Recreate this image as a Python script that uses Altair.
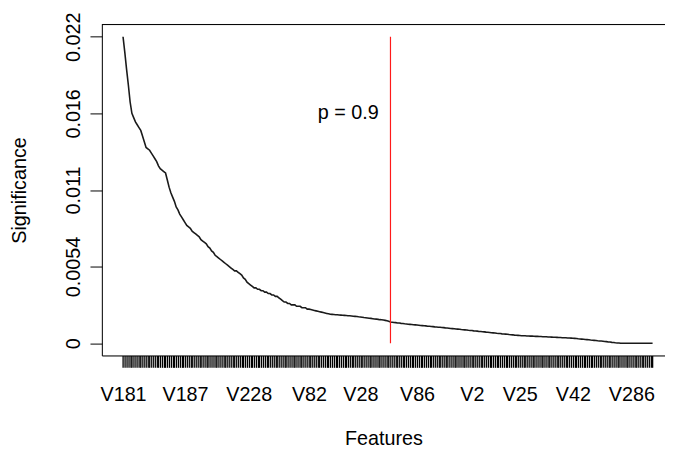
import altair as alt
import pandas as pd

# Significance of each feature (features sorted by significance)
significance = [
    0.0216, 0.0205, 0.0193, 0.0182, 0.0170, 0.0162, 0.0159, 0.0156, 0.0154, 0.0152,
    0.0150, 0.0146, 0.0142, 0.0138, 0.0137, 0.0136, 0.0134, 0.0132, 0.0130, 0.0128,
    0.0125, 0.0123, 0.0122, 0.0121, 0.0120, 0.0115, 0.0110, 0.0106, 0.0103, 0.0100,
    0.0096, 0.0094, 0.0091, 0.0089, 0.0087, 0.0085, 0.0083, 0.0082, 0.0081, 0.0079,
    0.0078, 0.0077, 0.0076, 0.0075, 0.0073, 0.0072, 0.0071, 0.0070, 0.0068, 0.0067,
    0.0065, 0.0064, 0.0062, 0.0061, 0.0060, 0.0059, 0.0058, 0.0057, 0.0056, 0.0055,
    0.0054, 0.0053, 0.0052, 0.0051, 0.0051, 0.0050, 0.0049, 0.0048, 0.0046, 0.0045,
    0.0043, 0.0042, 0.0041, 0.0040, 0.0039, 0.0039, 0.0038, 0.0038, 0.0037, 0.0037,
    0.0036, 0.0036, 0.0035, 0.0035, 0.0034, 0.0034, 0.0033, 0.0033, 0.0032, 0.0031,
    0.0030, 0.0029, 0.0029, 0.0028, 0.0028, 0.0027, 0.0027, 0.0027, 0.0026, 0.0026,
    0.0026, 0.0025, 0.0025, 0.0025, 0.0024, 0.0024, 0.00237, 0.00234, 0.00231, 0.00228,
    0.00225, 0.00222, 0.00219, 0.00216, 0.00213, 0.00210, 0.00207, 0.00204, 0.00203, 0.00202,
    0.00201, 0.00200, 0.00199, 0.00198, 0.00197, 0.00196, 0.00195, 0.00194, 0.00193, 0.00192,
    0.00190, 0.00189, 0.00188, 0.00186, 0.00185, 0.00183, 0.00181, 0.00180, 0.00178, 0.00176,
    0.00175, 0.00173, 0.00171, 0.00170, 0.00168, 0.00166, 0.00165, 0.00163, 0.00161, 0.00158,
    0.00155, 0.00150, 0.00148, 0.00146, 0.00145, 0.00143, 0.00142, 0.00140, 0.00139, 0.00137,
    0.00136, 0.00134, 0.00133, 0.00132, 0.00130, 0.00129, 0.00128, 0.00127, 0.00125, 0.00124,
    0.00123, 0.00122, 0.00120, 0.00119, 0.00118, 0.00117, 0.00115, 0.00114, 0.00113, 0.00112,
    0.00111, 0.00110, 0.00108, 0.00107, 0.00106, 0.00104, 0.00103, 0.00102, 0.00100, 0.00099,
    0.00098, 0.00096, 0.00095, 0.00094, 0.00093, 0.00091, 0.00090, 0.00089, 0.00087, 0.00086,
    0.00085, 0.00083, 0.00082, 0.00081, 0.00080, 0.00078, 0.00077, 0.00076, 0.00074, 0.00073,
    0.00072, 0.00070, 0.00069, 0.00068, 0.00066, 0.00065, 0.00064, 0.00063, 0.00061, 0.00060,
    0.00059, 0.00057, 0.00056, 0.00055, 0.00054, 0.00053, 0.00052, 0.00052, 0.00051, 0.00051,
    0.00050, 0.00050, 0.00049, 0.00048, 0.00048, 0.00047, 0.00047, 0.00046, 0.00045, 0.00045,
    0.00044, 0.00044, 0.00043, 0.00042, 0.00042, 0.00041, 0.00040, 0.00040, 0.00039, 0.00039,
    0.00038, 0.00037, 0.00037, 0.00036, 0.00035, 0.00034, 0.00033, 0.00031, 0.00030, 0.00029,
    0.00028, 0.00026, 0.00025, 0.00024, 0.00022, 0.00021, 0.00020, 0.00019, 0.00017, 0.00016,
    0.00015, 0.00014, 0.00012, 0.00011, 0.00009, 0.00008, 0.00006, 0.00005, 0.00003, 0.00002,
    0.00001, 0.0, 0.0, 0.0, 0.0, 0.0, 0.0, 0.0, 0.0, 0.0,
    0.0, 0.0, 0.0, 0.0, 0.0, 0.0, 0.0, 0.0, 0.0, 0.0,
]

# x-axis labels that are visible in the reference (R drops overlapping ones)
label_positions = [1, 36, 72, 106, 135, 167, 198, 225, 255, 288]
label_names = ["V181", "V187", "V228", "V82", "V28", "V86", "V2", "V25", "V42", "V286"]

# y-axis ticks: seq(0, max, length = 5), shown with 2 significant digits
y_ticks = [0, 0.0054, 0.0108, 0.0162, 0.0216]
y_tick_labels = ["0", "0.0054", "0.011", "0.016", "0.022"]

# cut-off marker
cut_index = 152
cut_label = "p = 0.9"
cut_label_y = 0.0162

n = len(significance)
feature_index = list(range(1, n + 1))
df = pd.DataFrame({"index": feature_index, "significance": significance})

FONT = "Liberation Sans"
FS = 20

pad = 0.04 * (n - 1)
x_lo = 1 - pad
x_hi = x_lo + 570 / (536 / (n - 1))
y_pad = 0.04 * max(y_ticks)
y_lo, y_hi = -y_pad, max(y_ticks) + y_pad

x_scale = alt.Scale(domain=[x_lo, x_hi], nice=False, zero=False)
y_scale = alt.Scale(domain=[y_lo, y_hi], nice=False, zero=False)

pos_js = "[" + ",".join(str(p) for p in label_positions) + "]"
names_js = "[" + ",".join("'" + s + "'" for s in label_names) + "]"
x_label_expr = f"indexof({pos_js}, datum.value) >= 0 ? {names_js}[indexof({pos_js}, datum.value)] : ''"

yt_js = "[" + ",".join(repr(v) for v in y_ticks) + "]"
ytl_js = "[" + ",".join("'" + s + "'" for s in y_tick_labels) + "]"
y_label_expr = f"indexof({yt_js}, datum.value) >= 0 ? {ytl_js}[indexof({yt_js}, datum.value)] : ''"

x_axis = alt.Axis(
    title="Features", values=feature_index, tickCount=n + 10, labelExpr=x_label_expr,
    labelOverlap=False, labelFlush=False, grid=False,
    tickColor="black", tickSize=12, tickWidth=1.3,
    domainColor="black", domainWidth=1,
    labelFont=FONT, labelFontSize=FS, labelColor="black", labelPadding=18,
    titleFont=FONT, titleFontSize=FS, titleFontWeight="normal", titleColor="black",
    titlePadding=24,
)
y_axis = alt.Axis(
    title="Significance", values=y_ticks, labelExpr=y_label_expr,
    labelAngle=-90, labelAlign="center", labelBaseline="bottom",
    labelOverlap=False, labelFlush=False, grid=False,
    tickColor="black", tickSize=12, tickWidth=1,
    domainColor="black", domainWidth=1,
    labelFont=FONT, labelFontSize=FS, labelColor="black", labelPadding=7,
    titleFont=FONT, titleFontSize=FS, titleFontWeight="normal", titleColor="black",
    titlePadding=34,
)

line = alt.Chart(df).mark_line(color="#1a1a1a", strokeWidth=1.6).encode(
    x=alt.X("index:Q", scale=x_scale, axis=x_axis),
    y=alt.Y("significance:Q", scale=y_scale, axis=y_axis),
)

top_border = alt.Chart().mark_rule(color="black", strokeWidth=1).encode(
    y=alt.datum(y_hi, scale=y_scale)
)

cut_rule = alt.Chart().mark_rule(color="#ff1a1a", strokeWidth=1.2).encode(
    x=alt.datum(cut_index, scale=x_scale),
    y=alt.datum(0, scale=y_scale),
    y2=alt.datum(max(y_ticks)),
)

cut_text = alt.Chart().mark_text(
    text=cut_label, align="right", baseline="middle", dx=-12,
    font=FONT, fontSize=FS, color="black",
).encode(
    x=alt.datum(cut_index, scale=x_scale),
    y=alt.datum(cut_label_y, scale=y_scale),
)

chart = alt.layer(line, top_border, cut_rule, cut_text).properties(
    width=570, height=335,
    autosize=alt.AutoSizeParams(type="none"),
    padding={"left": 95, "top": 14, "right": 0, "bottom": 94},
).configure_view(stroke=None).configure(background="white")

chart.save("out.html", embed_options={"renderer": "svg", "actions": False})
